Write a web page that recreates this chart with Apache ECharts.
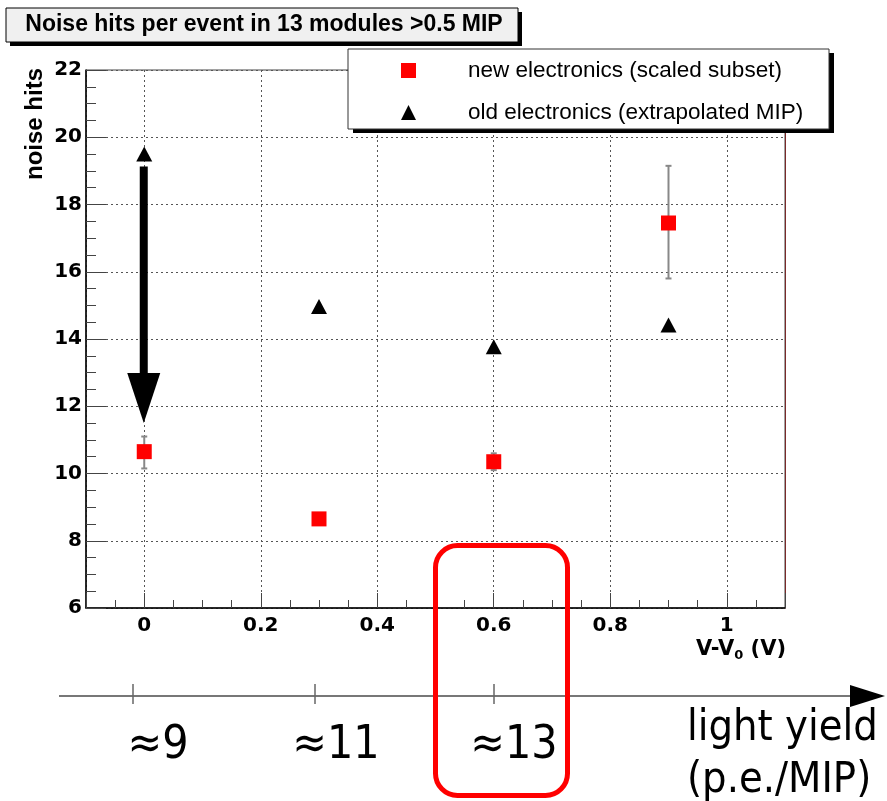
<!DOCTYPE html>
<html><head><meta charset="utf-8">
<script src="https://cdn.jsdelivr.net/npm/echarts@6/dist/echarts.min.js"></script>
<style>html,body{margin:0;padding:0;background:#fff}#c{width:887px;height:801px}</style>
</head><body><div id="c"></div>
<script>
// ---- data ----
const xValues = [0, 0.3, 0.6, 0.9];
const newElectronics = [10.65, 8.65, 10.35, 17.45];
const newErrLow = [10.15, 8.55, 10.1, 15.8];
const newErrHigh = [11.1, 8.75, 10.6, 19.15];
const oldElectronics = [19.5, 14.97, 13.77, 14.42];
const arrowX = [0];
const arrowFrom = [19.13];
const arrowTo = [11.5];
const lightYieldLabels = ['≈9', '≈11', '≈13'];
const seriesNames = ['new electronics (scaled subset)', 'old electronics (extrapolated MIP)'];
const titleText = 'Noise hits per event in 13 modules >0.5 MIP';

const FONT = '"Liberation Sans", Arial, Helvetica, sans-serif';
const BFONT = '"DejaVu Sans", sans-serif';
const ANN_FONT = '"DejaVu Sans Condensed", "DejaVu Sans", sans-serif';
const lyTickX = [133, 315, 494];
const lyLabelX = [158, 336, 514];

const chart = echarts.init(document.getElementById('c'), null, {renderer: 'canvas'});

const graphics = [
  // title box
  {type: 'rect', z: 5, shape: {x: 10, y: 12, width: 512, height: 34}, style: {fill: '#000'}},
  {type: 'rect', z: 6, shape: {x: 6, y: 8, width: 512, height: 34}, style: {fill: '#f0f0f0', stroke: '#000', lineWidth: 1}},
  {type: 'text', z: 7, x: 264, y: 25, style: {text: titleText, font: 'bold 23px ' + FONT, fill: '#000', textAlign: 'center', align: 'center', textVerticalAlign: 'middle', verticalAlign: 'middle'}},
  // legend box
  {type: 'rect', z: 5, shape: {x: 353, y: 53, width: 481, height: 80}, style: {fill: '#000'}},
  {type: 'rect', z: 6, shape: {x: 348, y: 49, width: 481, height: 80}, style: {fill: '#fff', stroke: '#333', lineWidth: 1}},
  // y axis name
  {type: 'text', z: 7, x: 35, y: 68, rotation: Math.PI / 2, style: {text: 'noise hits', font: 'bold 24px ' + FONT, fill: '#000', textAlign: 'right', align: 'right', textVerticalAlign: 'middle', verticalAlign: 'middle'}},
  // x axis name
  {type: 'text', z: 7, x: 786, y: 650, style: {text: '{a|V-V}{s|0}{a| (V)}', textAlign: 'right', align: 'right', textVerticalAlign: 'middle', verticalAlign: 'middle',
    rich: {a: {font: 'bold 21px ' + BFONT, fill: '#000'}, s: {font: 'bold 13px ' + BFONT, fill: '#000', padding: [12, 0, 0, 0]}}}},
  // light yield axis
  {type: 'line', z: 7, shape: {x1: 59, y1: 696, x2: 855, y2: 696}, style: {stroke: '#777', lineWidth: 2}},
  {type: 'polygon', z: 7, shape: {points: [[850, 685], [885, 696], [850, 707]]}, style: {fill: '#000'}},
  {type: 'text', z: 7, x: 687, y: 729, style: {text: 'light yield', font: '43px ' + ANN_FONT, fill: '#000', textAlign: 'left', align: 'left', textVerticalAlign: 'middle', verticalAlign: 'middle'}},
  {type: 'text', z: 7, x: 687, y: 781, style: {text: '(p.e./MIP)', font: '43px ' + ANN_FONT, fill: '#000', textAlign: 'left', align: 'left', textVerticalAlign: 'middle', verticalAlign: 'middle'}},
  // red highlight box
  {type: 'rect', z: 100, shape: {x: 435.5, y: 545.5, width: 132, height: 250, r: 22}, style: {fill: 'none', stroke: '#ff0000', lineWidth: 5}}
];
lyTickX.forEach((x, i) => {
  graphics.push({type: 'line', z: 7, shape: {x1: x, y1: 684, x2: x, y2: 704}, style: {stroke: '#666', lineWidth: 1.5}});
  graphics.push({type: 'text', z: 7, x: lyLabelX[i], y: 746, style: {text: lightYieldLabels[i], font: '46px ' + ANN_FONT, fill: '#000', textAlign: 'center', align: 'center', textVerticalAlign: 'middle', verticalAlign: 'middle'}});
});

const errData = xValues.map((x, i) => [x, newErrLow[i], newErrHigh[i]]);
const arrowData = arrowX.map((x, i) => [x, arrowFrom[i], arrowTo[i]]);

const option = {
  backgroundColor: '#fff',
  animation: false,
  grid: {left: 86, right: 102, top: 70, bottom: 193, show: true, borderColor: '#444', borderWidth: 1, backgroundColor: 'transparent'},
  xAxis: [{
    type: 'value', min: -0.1, max: 1.1, splitNumber: 6,
    axisLine: {show: true, onZero: false, lineStyle: {color: '#000', width: 1.5}},
    axisTick: {show: true, inside: true, length: 15, lineStyle: {color: '#444', width: 1}},
    minorTick: {show: true, splitNumber: 4, length: 8, lineStyle: {color: '#444', width: 1}},
    axisLabel: {show: true, showMinLabel: false, showMaxLabel: false, margin: 8, color: '#000', fontWeight: 'bold', fontSize: 20, fontFamily: BFONT,
      formatter: v => String(Math.round(v * 10) / 10)},
    splitLine: {show: true, lineStyle: {color: '#555', type: [2, 3], width: 1}},
    minorSplitLine: {show: false}
  }],
  yAxis: [{
    type: 'value', min: 6, max: 22, interval: 2,
    axisLine: {show: true, onZero: false, lineStyle: {color: '#000', width: 1.5}},
    axisTick: {show: true, inside: true, length: 20, lineStyle: {color: '#444', width: 1}},
    minorTick: {show: true, splitNumber: 4, length: 10, lineStyle: {color: '#444', width: 1}},
    axisLabel: {show: true, margin: 4, color: '#000', fontWeight: 'bold', fontSize: 20, fontFamily: BFONT},
    splitLine: {show: true, lineStyle: {color: '#555', type: [2, 3], width: 1}}
  }, {
    type: 'value', min: 6, max: 22, interval: 2, position: 'right',
    axisLine: {show: true, onZero: false, lineStyle: {color: '#7a2a2a', width: 1}},
    axisTick: {show: false}, axisLabel: {show: false}, splitLine: {show: false}
  }],
  legend: {
    orient: 'vertical', left: 401, top: 59, padding: 0, itemGap: 19, itemWidth: 15, itemHeight: 15, z: 8,
    data: seriesNames,
    textStyle: {fontSize: 22.5, lineHeight: 22, fontFamily: FONT, color: '#000', padding: [0, 0, 0, 47]}
  },
  graphic: {elements: graphics},
  series: [{
    type: 'custom', name: 'err', z: 3, silent: true,
    data: errData, encode: {x: 0, y: [1, 2]},
    renderItem: function (params, api) {
      const x = api.value(0);
      const lo = api.coord([x, api.value(1)]);
      const hi = api.coord([x, api.value(2)]);
      const c = 3, st = {stroke: '#888', lineWidth: 2};
      return {type: 'group', children: [
        {type: 'line', shape: {x1: lo[0], y1: lo[1], x2: hi[0], y2: hi[1]}, style: st},
        {type: 'line', shape: {x1: lo[0] - c, y1: lo[1], x2: lo[0] + c, y2: lo[1]}, style: st},
        {type: 'line', shape: {x1: hi[0] - c, y1: hi[1], x2: hi[0] + c, y2: hi[1]}, style: st}
      ]};
    }
  }, {
    type: 'scatter', name: seriesNames[0], z: 4, symbol: 'rect', symbolSize: 15,
    itemStyle: {color: '#ff0000', opacity: 1},
    data: xValues.map((x, i) => [x, newElectronics[i]])
  }, {
    type: 'scatter', name: seriesNames[1], z: 4, symbol: 'triangle', symbolSize: [16, 15],
    itemStyle: {color: '#000', opacity: 1},
    data: xValues.map((x, i) => [x, oldElectronics[i]])
  }, {
    type: 'custom', name: 'arrow', z: 5, silent: true,
    data: arrowData, encode: {x: 0, y: [1, 2]},
    renderItem: function (params, api) {
      const x = api.value(0);
      const s = api.coord([x, api.value(1)]);
      const e = api.coord([x, api.value(2)]);
      const headLen = 50, headW = 33, shaftW = 8;
      const cx = s[0] - 0.5;
      return {type: 'group', children: [
        {type: 'rect', shape: {x: cx - shaftW / 2, y: s[1], width: shaftW, height: (e[1] - headLen) - s[1] + 1}, style: {fill: '#000'}},
        {type: 'polygon', shape: {points: [[cx - headW / 2, e[1] - headLen], [cx + headW / 2, e[1] - headLen], [cx, e[1]]]}, style: {fill: '#000'}}
      ]};
    }
  }]
};
chart.setOption(option);
</script></body></html>
